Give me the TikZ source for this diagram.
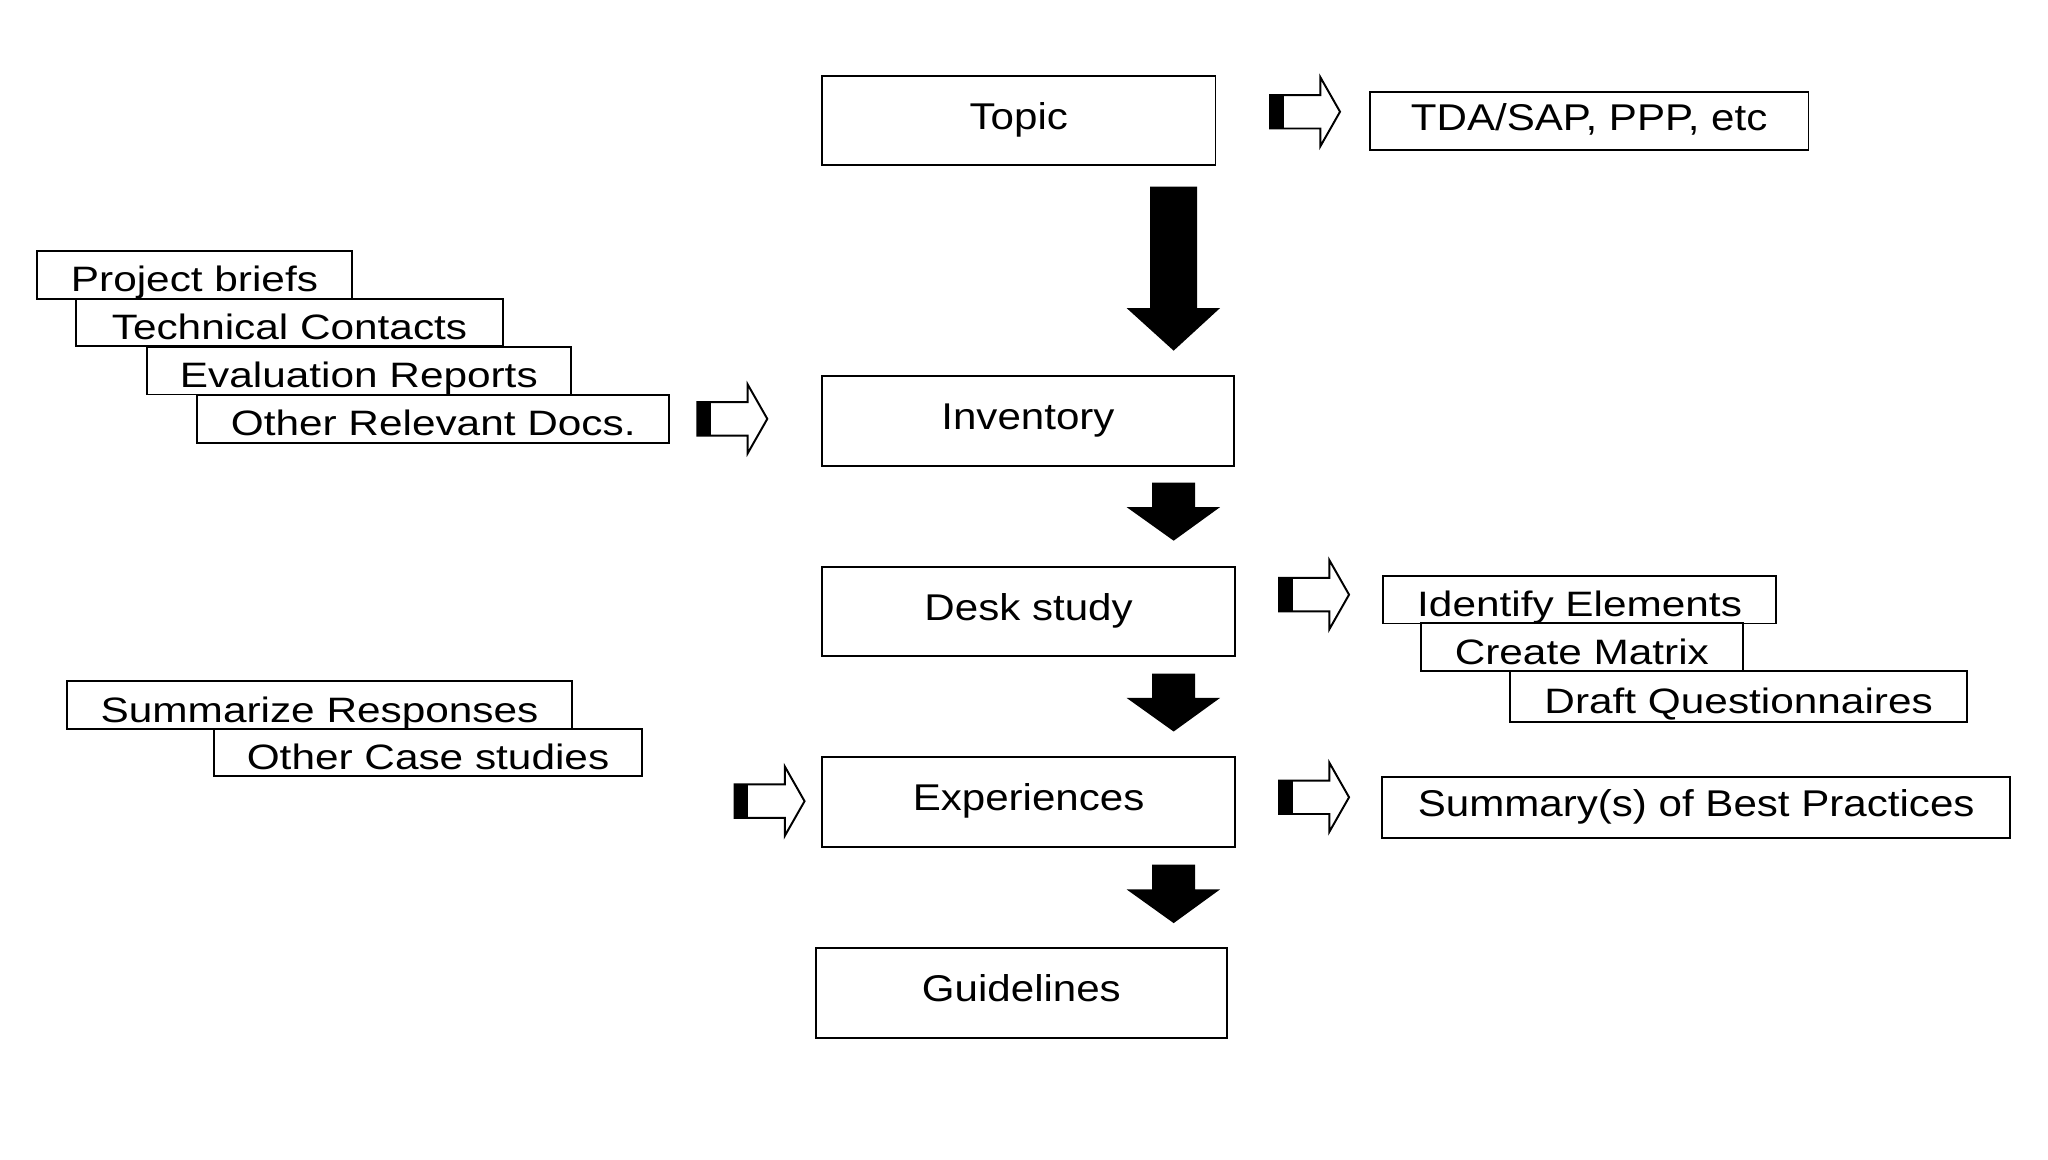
\documentclass[tikz,border=0pt]{standalone}
\usepackage{fontspec}
\setmainfont{Liberation Sans}
\newfontfamily\bigfont{Liberation Sans}[FakeStretch=1.13]
\newfontfamily\stackfont{Liberation Sans}[FakeStretch=1.2]
\newcommand\blkdown[4]{\fill[black] (898-#4,#1) -- (898+#4,#1) -- (898+#4,#2) -- (933.5,#2) -- (898,#3) -- (862,#2) -- (898-#4,#2) -- cycle;}
\newcommand\hollowr[2]{%
  \draw[line width=1.5pt, line join=miter, fill=white] (#1,#2-12.8) -- (#1+38.5,#2-12.8) -- (#1+38.5,#2-26.5) -- (#1+53.6,#2) -- (#1+38.5,#2+26.5) -- (#1+38.5,#2+12.8) -- (#1,#2+12.8) -- cycle;
  \fill[black] (#1,#2-12.8) rectangle (#1+10.5,#2+12.8);}
\tikzset{
  box/.style={draw, line width=1.5pt, fill=white, inner sep=0pt, outer sep=0pt,
    text height=20pt, text depth=6pt, font=\bigfont\fontsize{28.5}{31}\selectfont},
  stackbox/.style={box, text height=26pt, text depth=0pt, font=\stackfont\fontsize{27}{30}\selectfont}
}
\begin{document}
\begin{tikzpicture}[x=1pt,y=-1pt]
\fill[white] (0,0) rectangle (1567,887);
\useasboundingbox (0,0) rectangle (1567,887);
% main column
\node[box, minimum width=301pt, minimum height=68.5pt] (topic) at (779.5,92.3) {Topic};
\node[box, minimum width=315pt, minimum height=69pt] (inventory) at (786.5,321.9) {Inventory};
\node[box, minimum width=316pt, minimum height=68pt] (desk) at (787,468) {Desk study};
\node[box, minimum width=316pt, minimum height=69pt] (exper) at (787,613.5) {Experiences};
\node[box, minimum width=315pt, minimum height=69pt] (guide) at (781.5,759.5) {Guidelines};
% down block arrows
\blkdown{142.8}{235.7}{268.3}{18}
\blkdown{369.3}{388}{413.7}{16.5}
\blkdown{515.5}{534}{559.7}{16.5}
\blkdown{661.5}{680.5}{706.3}{16.5}
% right side single boxes
\node[box, minimum width=335.7pt, minimum height=44.7pt] (tda) at (1215.9,92.5) {TDA/SAP, PPP, etc};
\node[box, minimum width=480.4pt, minimum height=46.3pt] (summary) at (1297.8,617.9) {Summary(s) of Best Practices};
% left stack 1
\node[stackbox, minimum width=240.4pt, minimum height=36.4pt] (proj) at (148.8,210.3) {Project briefs};
\node[stackbox, minimum width=327.1pt, minimum height=36.3pt] (tech) at (221.5,246.7) {Technical Contacts};
\node[stackbox, minimum width=324.8pt, minimum height=36.7pt] (eval) at (274.6,283.5) {Evaluation Reports};
\node[stackbox, minimum width=361pt, minimum height=37pt] (other) at (331.5,320.5) {Other Relevant Docs.};
% right stack
\node[stackbox, minimum width=300.2pt, minimum height=36.5pt] (ident) at (1208.6,458.8) {Identify Elements};
\node[stackbox, minimum width=246.6pt, minimum height=36.4pt] (create) at (1210.3,495.2) {Create Matrix};
\node[stackbox, minimum width=349.4pt, minimum height=39.2pt] (draft) at (1330.3,533) {Draft Questionnaires};
% left stack 2
\node[stackbox, minimum width=387pt, minimum height=37pt] (summz) at (244.5,539.5) {Summarize Responses};
\node[stackbox, minimum width=327pt, minimum height=36pt] (othercase) at (327.5,576) {Other Case studies};
% hollow arrows
\hollowr{971.7}{85.5}
\hollowr{533.5}{320.5}
\hollowr{978.6}{455}
\hollowr{562}{613}
\hollowr{978.6}{610}
\end{tikzpicture}
\end{document}
